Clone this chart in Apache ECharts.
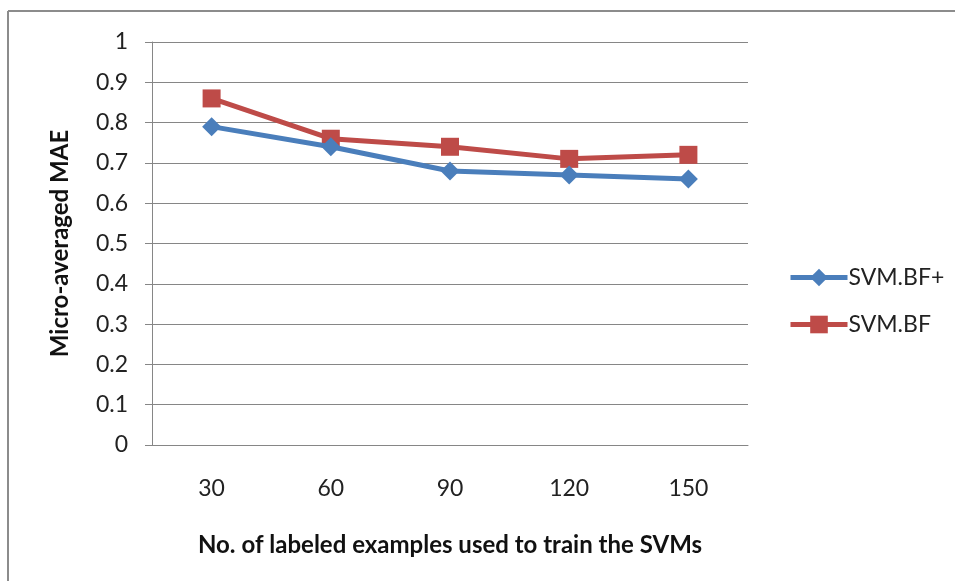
<!DOCTYPE html>
<html><head><meta charset="utf-8">
<script src="https://cdn.jsdelivr.net/npm/echarts@6/dist/echarts.min.js"></script>
<style>html,body{margin:0;padding:0;background:#fff}#c{width:955px;height:581px}</style>
</head><body><div id="c"></div>
<script>
var categories = ['30', '60', '90', '120', '150'];
var svmBFplus = [0.79, 0.74, 0.68, 0.67, 0.66];
var svmBF = [0.86, 0.76, 0.74, 0.71, 0.72];
var seriesNames = ['SVM.BF+', 'SVM.BF'];
var yTitle = 'Micro-averaged MAE';
var xTitle = 'No. of labeled examples used to train the SVMs';

var font = 'Lato, "Open Sans", sans-serif';
var chart = echarts.init(document.getElementById('c'), null, {renderer: 'canvas'});
chart.setOption({
  animation: false,
  backgroundColor: '#fff',
  graphic: [
    {type: 'line', shape: {x1: 8, y1: 11, x2: 955, y2: 11}, style: {stroke: '#8c8c8c', lineWidth: 2}},
    {type: 'line', shape: {x1: 8, y1: 11, x2: 8, y2: 581}, style: {stroke: '#8c8c8c', lineWidth: 2}}
  ],
  grid: {left: 152, right: 207, top: 42, bottom: 136, containLabel: false},
  legend: {
    orient: 'vertical', left: 783, top: 261, itemGap: 24,
    itemWidth: 57, itemHeight: 22,
    lineStyle: {width: 5},
    textStyle: {fontFamily: font, fontSize: 23, color: '#222', padding: [0, 0, 0, -4]},
    data: seriesNames
  },
  xAxis: {
    type: 'category', data: categories, boundaryGap: true,
    name: xTitle, nameLocation: 'middle', nameGap: 88,
    nameTextStyle: {fontFamily: font, fontSize: 24, fontWeight: 'bold', color: '#111'},
    axisLine: {show: true, lineStyle: {color: '#868686', width: 1}},
    axisTick: {show: false},
    axisLabel: {fontFamily: font, fontSize: 23, color: '#222', margin: 32}
  },
  yAxis: {
    type: 'value', min: 0, max: 1, interval: 0.1,
    name: yTitle, nameLocation: 'middle', nameGap: 80, nameRotate: 90,
    nameTextStyle: {fontFamily: font, fontSize: 24, fontWeight: 'bold', color: '#111'},
    axisLine: {show: true, lineStyle: {color: '#868686', width: 1}},
    axisTick: {show: true, length: 7, lineStyle: {color: '#868686'}},
    splitLine: {show: true, lineStyle: {color: '#868686', width: 1}},
    axisLabel: {fontFamily: font, fontSize: 23, color: '#222', margin: 24,
      formatter: function (v) { return String(Math.round(v * 10) / 10); }}
  },
  series: [
    {name: seriesNames[0], type: 'line', data: svmBFplus, symbol: 'diamond', symbolSize: 19,
     lineStyle: {color: '#4A7EBB', width: 5}, itemStyle: {color: '#4A7EBB'}, z: 3},
    {name: seriesNames[1], type: 'line', data: svmBF, symbol: 'rect', symbolSize: 18,
     lineStyle: {color: '#BE4B48', width: 5}, itemStyle: {color: '#BE4B48'}, z: 2}
  ]
});
</script></body></html>
